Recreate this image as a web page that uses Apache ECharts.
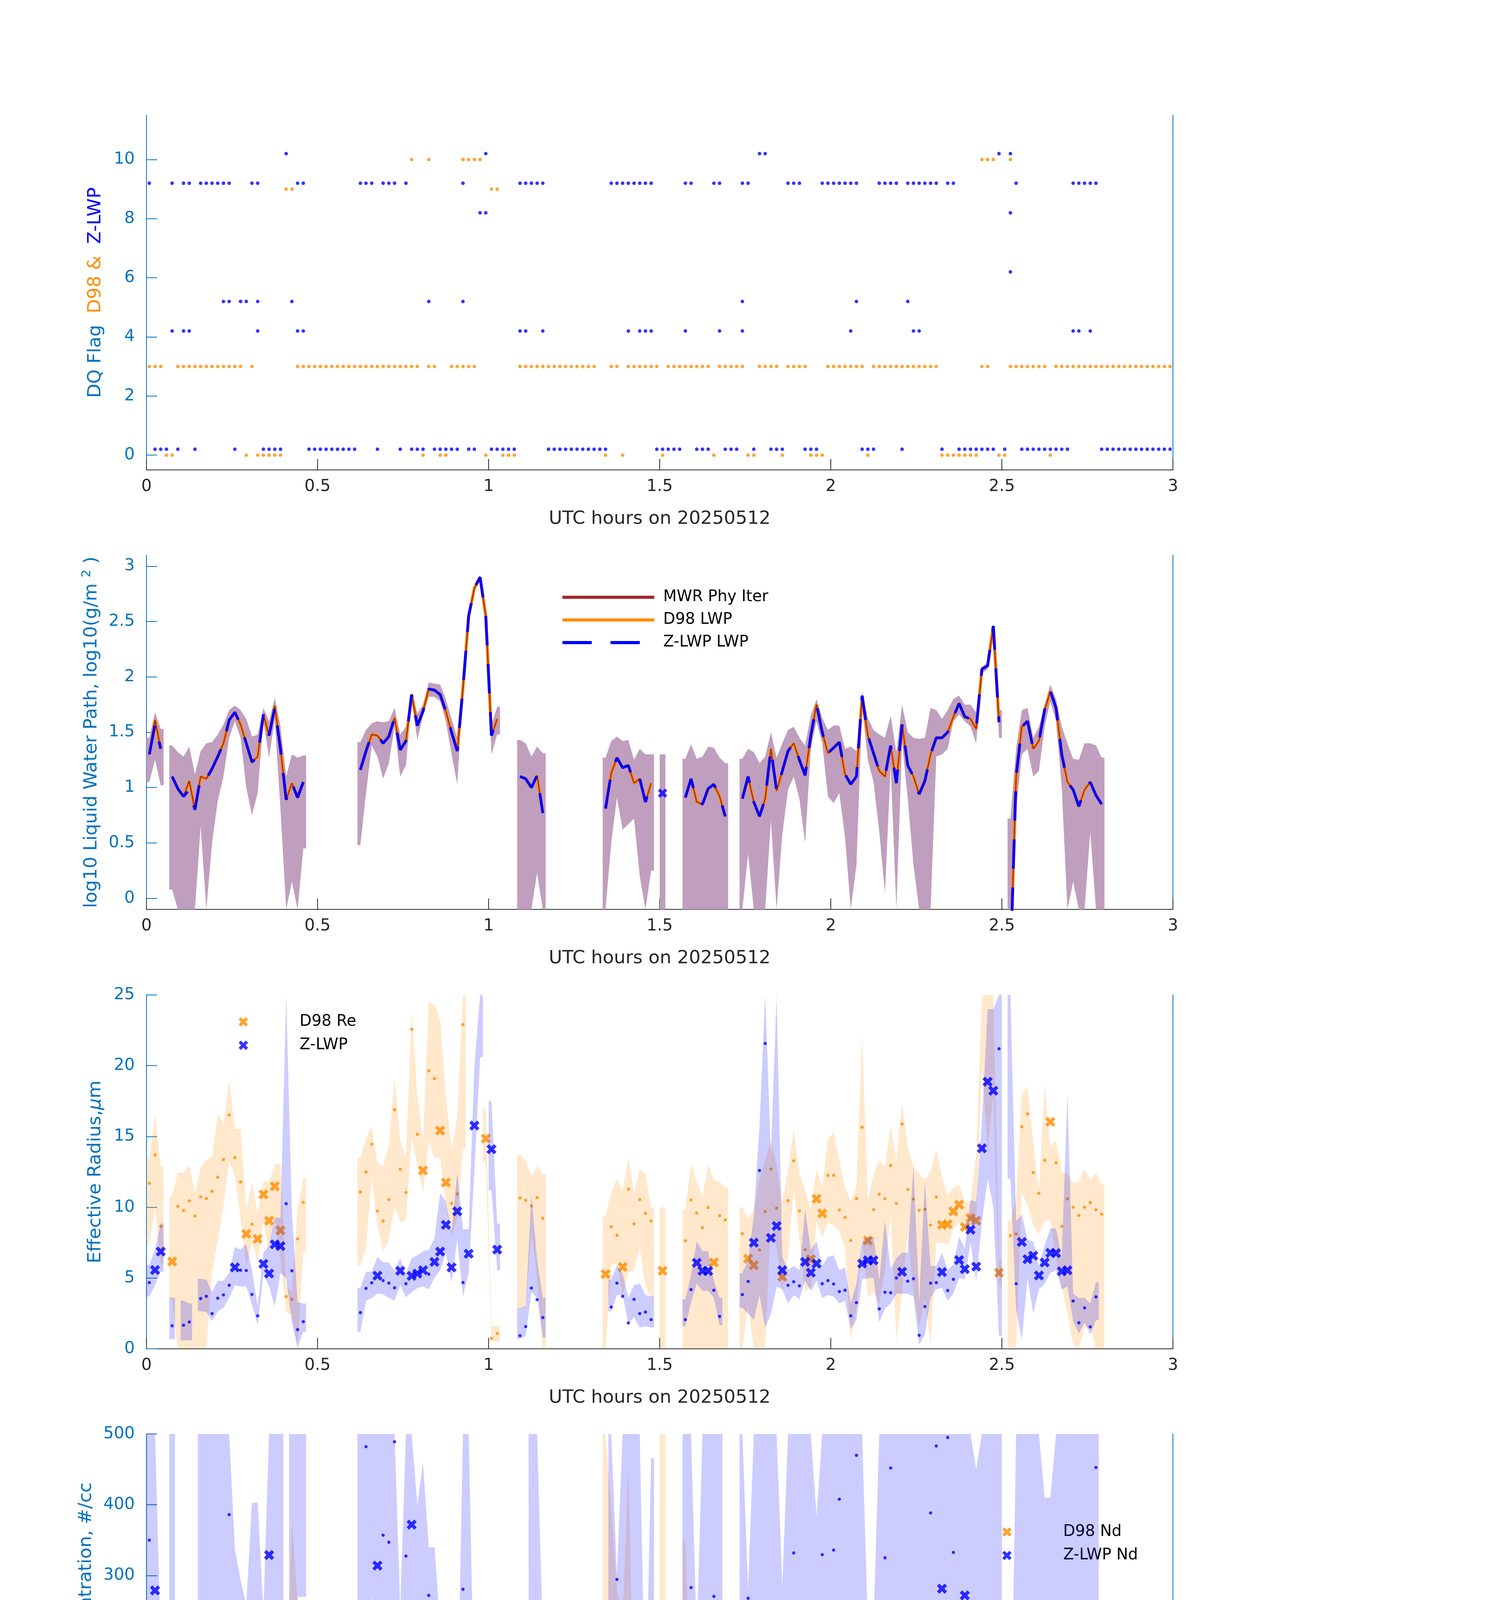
<!DOCTYPE html>
<html><head><meta charset="utf-8">
<script src="https://cdn.jsdelivr.net/npm/echarts@6/dist/echarts.min.js"></script>
<style>html,body{margin:0;padding:0;background:#fff}#c{width:3825px;height:6000px}</style>
</head><body><div id="c"></div>
<script>
const _ = null;
// x: one sample per minute, minute index i -> UTC hour (i+0.5)/60
const xTicks = [0, 0.5, 1, 1.5, 2, 2.5, 3];

// ---------- Panel 1: DQ flags (minute indices at each flag level) ----------
const d98Flag0 = [3,4,17,19,20,21,22,23,48,51,52,59,62,63,64,80,83,90,99,105,106,111,116,117,118,126,139,140,141,142,143,144,145,149,150,158];
const d98Flag3 = [0,1,2,5,6,7,8,9,10,11,12,13,14,15,16,18,26,27,28,29,30,31,32,33,34,35,36,37,38,39,40,41,42,43,44,45,46,47,49,50,53,54,55,56,57,65,66,67,68,69,70,71,72,73,74,75,76,77,78,81,82,84,85,86,87,88,89,91,92,93,94,95,96,97,98,100,101,102,103,104,107,108,109,110,112,113,114,115,119,120,121,122,123,124,125,127,128,129,130,131,132,133,134,135,136,137,138,146,147,151,152,153,154,155,156,157,159,160,161,162,163,164,165,166,167,168,169,170,171,172,173,174,175,176,177,178,179,180];
const d98Flag9 = [24,25,60,61];
const d98Flag10 = [46,49,55,56,57,58,146,147,148,151];
const zFlag0 = [1,2,3,5,8,15,20,21,22,23,28,29,30,31,32,33,34,35,36,40,44,46,47,48,50,51,52,53,54,56,57,60,61,62,63,64,70,71,72,73,74,75,76,77,78,79,80,89,90,91,92,93,96,97,98,101,102,103,106,109,110,111,115,116,117,125,126,127,132,139,142,143,144,145,146,147,148,150,153,154,155,156,157,158,159,160,161,167,168,169,170,171,172,173,174,175,176,177,178,179,180];
const zFlag4 = [4,6,7,19,26,27,65,66,69,84,86,87,88,94,100,104,123,134,135,162,163,165];
const zFlag5 = [13,14,16,17,19,25,49,55,104,124,133];
const zFlag6 = [151];
const zFlag8 = [58,59,151];
const zFlag9 = [0,4,6,7,9,10,11,12,13,14,18,19,26,27,37,38,39,41,42,43,45,55,65,66,67,68,69,81,82,83,84,85,86,87,88,94,95,99,100,104,105,112,113,114,118,119,120,121,122,123,124,128,129,130,131,133,134,135,136,137,138,140,141,152,162,163,164,165,166];
const zFlag10 = [24,59,107,108,149,151];

// ---------- Panel 2: log10 LWP ----------
const zlwpLwp = [
1.30,1.57,1.35,_,1.10,0.99,0.92,0.98,0.80,1.10,
1.08,1.17,1.28,1.40,1.61,1.68,1.57,1.40,1.23,1.28,
1.66,1.47,1.72,1.35,0.89,1.04,0.91,1.05,_,_,
_,_,_,_,_,_,_,1.16,1.33,1.48,
1.47,1.40,1.46,1.63,1.34,1.42,1.84,1.56,1.69,1.89,
1.88,1.84,1.69,1.50,1.33,1.90,2.55,2.80,2.90,2.55,
1.47,1.62,_,_,_,1.10,1.08,1.00,1.11,0.77,
_,_,_,_,_,_,_,_,_,_,
0.81,1.13,1.27,1.18,1.20,1.04,1.08,0.87,1.04,_,
_,_,_,_,0.91,1.08,0.87,0.85,0.99,1.03,
0.92,0.74,_,_,0.90,1.10,0.87,0.74,0.90,1.35,
0.97,1.15,1.33,1.40,1.25,1.11,1.47,1.75,1.50,1.31,
1.36,1.41,1.12,1.03,1.10,1.83,1.47,1.31,1.15,1.10,
1.38,1.04,1.57,1.20,1.10,0.94,1.06,1.30,1.45,1.45,
1.50,1.64,1.76,1.64,1.62,1.53,2.07,2.10,2.46,1.59,
_,-0.6,1.10,1.55,1.60,1.35,1.42,1.70,1.87,1.72,
1.30,1.05,0.98,0.83,0.98,1.05,0.93,0.85];
const d98Lwp = [
1.30,1.61,1.35,_,1.10,0.99,0.92,1.06,0.80,1.10,
1.08,1.17,1.28,1.40,1.61,1.68,1.57,1.40,1.23,1.28,
1.66,1.47,1.74,1.35,0.89,1.04,0.91,1.05,_,_,
_,_,_,_,_,_,_,1.16,1.33,1.48,
1.47,1.40,1.46,1.63,1.34,1.42,1.84,1.56,1.69,1.89,
1.88,1.84,1.69,1.50,1.33,1.90,2.55,2.80,2.90,2.55,
1.47,1.62,_,_,_,1.10,1.08,1.00,1.11,0.77,
_,_,_,_,_,_,_,_,_,_,
0.81,1.13,1.27,1.18,1.20,1.04,1.08,0.87,1.04,_,
_,_,_,_,0.91,1.08,0.87,0.85,0.99,1.03,
0.92,0.74,_,_,0.90,1.10,0.87,0.74,0.90,1.35,
0.97,1.15,1.33,1.40,1.25,1.11,1.47,1.75,1.50,1.31,
1.36,1.41,1.12,1.03,1.10,1.83,1.47,1.31,1.15,1.10,
1.38,1.04,1.57,1.20,1.10,0.94,1.06,1.30,1.45,1.45,
1.50,1.64,1.76,1.64,1.62,1.53,2.07,2.10,2.46,1.59,
_,-0.6,1.10,1.55,1.60,1.35,1.42,1.70,1.87,1.72,
1.30,1.05,0.98,0.83,0.98,1.05,0.93,0.85];
const mwrLwp = d98Lwp; // MWR Phy Iter coincides with D98 LWP in the picture
const zlwpLwpIsolated = [[90, 0.95]]; // [minute index, value]
const lwpLo = [
1.05,1.25,1.02,_,0.08,-0.3,-0.3,-0.3,-0.3,0.65,
-0.3,0.50,0.88,1.10,1.45,1.60,1.45,1.00,0.75,0.95,
1.60,1.27,1.62,0.80,-0.3,0.15,-0.3,0.45,_,_,
_,_,_,_,_,_,_,0.48,0.95,1.38,
1.28,1.08,1.22,1.55,1.10,1.20,1.78,1.43,1.65,1.82,
1.82,1.78,1.60,1.30,1.03,1.87,2.53,2.78,2.88,2.50,
1.30,1.48,_,_,_,-0.3,-0.3,-0.3,0.23,-0.3,
_,_,_,_,_,_,_,_,_,_,
-0.3,0.50,0.91,0.62,0.67,0.72,0.20,-0.3,0.25,_,
-0.3,_,_,_,-0.3,-0.3,-0.3,-0.3,-0.3,-0.3,
-0.3,-0.3,_,_,-0.3,0.40,-0.3,-0.3,-0.3,0.70,
-0.3,0.58,0.98,1.10,0.90,0.50,1.35,1.60,1.40,0.92,
0.86,0.95,0.55,-0.3,0.30,1.73,1.25,1.05,0.60,0.05,
1.20,-0.3,1.40,0.90,0.30,-0.3,-0.3,-0.3,1.28,1.30,
1.35,1.60,1.66,1.60,1.55,1.40,2.03,2.07,2.43,1.45,
_,-0.3,0.80,1.30,1.35,1.10,1.15,1.55,1.78,1.60,
1.00,-0.3,0.15,-0.3,-0.3,0.60,-0.3,-0.3];
const lwpHi = [
1.45,1.68,1.53,_,1.38,1.32,1.28,1.37,1.12,1.33,
1.40,1.41,1.48,1.57,1.70,1.74,1.70,1.62,1.46,1.48,
1.72,1.60,1.81,1.55,1.10,1.30,1.27,1.29,_,_,
_,_,_,_,_,_,_,1.41,1.52,1.58,
1.60,1.59,1.60,1.72,1.48,1.55,1.86,1.67,1.75,1.95,
1.94,1.93,1.80,1.62,1.45,1.91,2.56,2.82,2.92,2.57,
1.57,1.73,_,_,_,1.43,1.40,1.28,1.37,1.31,
_,_,_,_,_,_,_,_,_,_,
1.27,1.42,1.46,1.42,1.43,1.25,1.35,1.30,1.30,_,
1.30,_,_,_,1.26,1.39,1.26,1.28,1.37,1.36,
1.27,1.22,_,_,1.26,1.35,1.32,1.22,1.28,1.50,
1.27,1.40,1.52,1.55,1.45,1.38,1.65,1.80,1.63,1.52,
1.56,1.56,1.35,1.37,1.33,1.87,1.63,1.52,1.48,1.45,
1.65,1.32,1.75,1.50,1.45,1.44,1.45,1.72,1.70,1.62,
1.70,1.80,1.83,1.75,1.75,1.68,2.09,2.13,2.48,1.70,
_,0.72,1.35,1.70,1.72,1.45,1.55,1.75,1.93,1.80,
1.55,1.40,1.26,1.25,1.40,1.40,1.38,1.27];

// ---------- Panel 3: effective radius (um) ----------
const d98Re = [
11.7,13.7,8.66,_,6.17,10.06,9.77,10.45,9.38,10.74,
10.62,11.13,12.12,13.36,16.52,13.51,11.79,8.12,8.80,7.77,
10.91,9.05,11.48,8.37,3.69,3.50,7.77,10.35,_,_,
_,_,_,_,_,_,_,11.07,12.49,14.45,
9.73,9.03,10.54,16.89,12.68,11.05,22.58,15.15,12.60,19.63,
19.09,15.42,11.75,10.27,10.95,22.9,_,_,_,14.85,
0.74,1.1,_,_,_,10.66,10.50,10.10,10.68,9.22,
_,_,_,_,_,_,_,_,_,_,
5.28,8.62,8.02,5.79,11.28,8.83,10.54,9.57,9.03,_,
5.51,_,_,_,7.63,10.52,9.59,8.56,9.98,6.10,
9.40,9.11,_,_,8.14,6.37,5.90,6.99,9.69,12.70,
9.94,5.09,10.47,13.28,9.75,7.01,6.33,10.60,9.57,12.25,
12.25,9.81,9.28,7.65,10.62,15.65,7.65,9.84,10.93,10.60,
12.95,10.27,15.88,11.26,10.58,9.79,9.86,8.74,10.72,8.76,
8.80,9.71,10.19,8.60,9.24,9.05,_,_,_,5.38,
_,8.0,8.12,15.69,16.6,12.45,10.99,13.32,16.04,13.15,
8.66,10.60,10.0,9.42,10.0,10.33,9.83,9.51];
const zRe = [
4.68,5.57,6.87,_,1.63,_,1.67,1.90,_,3.55,
3.71,2.49,3.57,3.81,4.49,5.75,5.55,5.53,3.84,2.33,
6.0,5.32,7.38,7.26,10.25,5.51,1.36,1.92,_,_,
_,_,_,_,_,_,_,2.56,4.27,4.66,
5.17,4.82,4.64,4.31,5.51,4.60,5.15,5.32,5.55,5.28,
6.14,6.87,8.76,5.75,9.71,4.68,6.72,15.77,_,_,
14.10,7.01,_,_,_,0.93,1.57,4.29,3.48,2.21,
_,_,_,_,_,_,_,_,_,_,
_,2.95,4.64,3.71,1.83,3.50,2.49,2.60,2.06,_,
_,_,_,_,2.06,4.19,6.08,5.51,5.50,4.14,
2.29,_,_,_,3.83,4.76,7.50,12.60,21.57,7.84,
8.68,5.55,4.49,4.74,4.45,6.14,5.38,6.02,4.60,4.82,
4.58,4.04,4.14,2.33,3.26,6.02,6.25,6.25,2.82,4.0,
3.96,5.01,5.44,4.78,4.95,0.95,2.99,4.64,4.68,5.42,
4.12,4.91,6.27,5.63,8.41,5.81,14.16,18.87,18.23,21.2,
_,_,4.60,7.55,6.33,6.58,5.18,6.10,6.78,6.76,
5.48,5.55,3.38,1.84,2.89,1.55,3.67,_];
const d98ReLo = [
7.4,10.0,6.0,_,3.5,0,0,0,0,0,
0.1,5.4,7.7,10.2,13.3,12.2,9.2,5.9,7.5,6.2,
9.0,6.9,9.2,6.3,2.6,2.4,0.1,6.9,_,_,
_,_,_,_,_,_,_,5.9,7.1,12.0,
8.7,6.9,7.7,10.0,9.0,9.05,14.9,12.9,11.0,14.7,
13.5,13.5,10.2,7.9,9.2,14.1,_,_,_,13.2,
0.5,0.5,_,_,_,2.9,2.9,8.3,5.0,0.1,
_,_,_,_,_,_,_,_,_,_,
0,5.9,6.1,3.8,5.4,5.55,7.1,4.4,3.6,_,
0,_,_,_,0,0,0,0,0,0,
0,0,_,_,0.1,3.0,0.1,0.1,0.1,9.2,
7.1,4.0,6.5,11.2,7.7,4.0,4.4,9.0,7.9,8.9,
8.7,8.3,7.1,0.5,3.0,7.7,3.6,4.0,3.2,5.5,
9.6,0.5,4.0,8.3,4.0,1.5,3.6,0.3,7.5,7.5,
7.3,8.5,8.9,8.3,9.4,9.05,20,14,18,4.4,
_,0.1,0.1,11.0,10.2,8.7,8.1,9.05,9.05,6.3,
4.4,2.45,0.3,0,1.5,1.5,0,0];
const d98ReHi = [
13.45,16.6,12.9,_,10.8,12.45,12.45,13.0,11.0,12.8,
13.35,13.6,16.6,15.9,18.95,15.55,15.55,9.8,11.8,9.5,
11.8,11.8,13.0,13.1,4.5,4.0,9.9,12.05,_,_,
_,_,_,_,_,_,_,13.5,14.9,15.75,
13.1,12.9,14.3,19.1,14.7,13.5,23.8,18.0,14.7,24.5,
24.3,23.2,17.8,14.1,16.4,26,_,_,_,16.97,
1.6,1.6,_,_,_,13.7,13.3,12.15,12.9,12.35,
_,_,_,_,_,_,_,_,_,_,
9.4,11.0,12.05,11.2,13.55,11.0,12.7,12.35,10.0,_,
10.0,_,_,_,9.8,13.1,11.8,10.8,13.0,11.9,
11.8,11.4,_,_,10.0,9.2,9.8,12.0,13.3,14.7,
12.9,10.4,12.6,15.5,12.35,11.2,9.8,12.7,11.4,14.8,
15.3,13.3,11.4,10.4,11.5,22.25,10.4,12.35,13.3,12.9,
15.85,13.3,17.4,14.2,12.9,12.35,11.95,12.5,14.1,12.15,
10.8,11.4,11.6,10.4,10.4,13.7,26,26,26,6.3,
_,9.05,10.6,18.0,18.5,14.5,11.2,18.6,14.3,14.7,
12.5,12.35,11.7,11.8,12.7,11.95,12.45,11.6];
const zReLo = [
3.7,4.5,5.45,_,0.7,_,0.6,0.6,_,2.65,
2.6,1.96,2.65,2.9,3.6,4.5,4.4,4.4,3.1,1.67,
5.3,4.4,3.0,5.35,5.0,1.86,0.1,1.2,_,_,
_,_,_,_,_,_,_,1.2,3.4,3.6,
3.9,3.85,3.6,3.4,4.5,3.65,4.0,4.3,4.4,4.2,
5.0,5.55,6.8,4.7,7.7,3.7,5.35,12.5,20.6,_,
11.2,5.55,_,_,_,0.7,0.9,4.0,3.6,0.8,
_,_,_,_,_,_,_,_,_,_,
_,2.65,3.8,3.8,1.77,2.25,1.5,1.6,1.5,_,
_,_,_,_,1.6,3.3,4.6,4.1,4.1,3.6,
1.67,_,_,_,2.9,2.5,2.05,3.8,1.5,2.45,
4.4,4.2,3.2,3.8,3.5,4.8,4.1,4.8,3.6,3.8,
3.7,3.2,3.4,1.4,2.05,4.9,5.0,5.0,1.86,2.85,
3.2,3.9,3.9,3.9,3.7,0.3,1.0,3.6,4.2,4.3,
3.4,3.9,5.0,4.9,7.5,4.8,9,12,10,0.9,
_,12.0,2.8,0.6,5.0,2.5,4.2,4.6,5.35,5.55,
4.2,4.4,1.96,1.1,1.86,1.0,2.05,_];
const zReHi = [
5.94,7.0,8.85,_,3.6,_,3.4,3.2,_,4.95,
4.9,4.0,4.8,4.8,5.35,7.2,7.0,7.4,5.55,3.0,
6.8,7.3,9.25,9.25,26,9.6,3.3,3.2,_,_,
_,_,_,_,_,_,_,4.3,5.45,5.45,
6.5,6.1,6.1,5.5,6.4,5.3,6.4,6.6,6.9,7.0,
7.8,11.0,10.4,8.3,12.45,8.45,8.45,19.9,26,_,
17.5,8.85,_,_,_,2.9,3.0,10.9,6.3,3.6,
_,_,_,_,_,_,_,_,_,_,
_,4.9,5.9,5.3,3.6,4.5,4.6,3.8,3.7,_,
_,_,_,_,3.5,5.2,7.6,6.9,6.9,4.8,
3.6,_,_,_,5.35,6.3,9.4,15.8,26,13.7,
26,6.5,5.55,5.85,5.55,9.8,7.0,7.6,5.85,6.5,
6.6,5.55,5.75,3.2,4.6,7.6,7.9,7.9,4.9,9.05,
5.65,6.4,6.8,6.8,12.9,3.4,11.8,5.85,5.85,6.8,
5.55,5.95,7.9,7.1,10.5,10.4,16,24,24,26,
_,26,9.0,9.5,7.7,7.6,5.85,7.3,8.5,8.5,
6.5,18.0,3.9,3.6,3.6,3.2,4.7,_];

// ---------- Panel 4: droplet concentration (#/cc) ----------
const d98Nd = [
22,21,47,_,121,20.5,20,22,17,23,
23,24,24,11,6,8,14,30,45,46,
13,61,40,57,55,95,40,22,_,_,
_,_,_,_,_,_,_,24,22,17,
44,58,28,8,8.5,27.5,4,8.5,18,4.6,
6,9,13,16,2,2,0,0,2,29,
_,_,_,_,_,23,23,20,15.5,17,
_,_,_,_,_,_,_,_,_,_,
100,48,58,151.5,24,36,23,19,33,_,
121,_,_,_,41,18,8.5,16,15,79,
22,16,_,_,11,110,41.5,16,5,9.3,
12,146,42,12,20.5,21,150,31,37,14,
14,29,15,55,11,15,58.5,26,18.6,16,
12,9.3,7.7,11,23,20.5,26,64,37.6,71,
42,38,43,67,47,67,1,1,2,89.5,
_,_,15,10,10,8,17,19,15,19,
46,22,23,18,21,23,20.5,18.6];
const zNd = [
350,279,88,_,_,_,_,_,_,_,
_,_,_,_,386,165,144,100,_,_,
120,329,177,70.5,2.3,29,_,_,_,_,
_,_,_,_,_,_,_,_,482,_,
314,357,347,489,123,327.5,372,197,228,272,
169,105,39,110.5,7.4,280.6,256,58,14.7,3,
11,74.4,_,_,_,_,_,221,_,_,
_,_,_,_,_,_,_,_,_,_,
_,_,294.6,_,_,_,_,_,_,_,
_,_,_,_,_,283,38,53.5,95,270.5,
_,_,_,_,180,268,21,2.7,0.4,57,
14,102.7,_,332,206,32,240.7,190.7,329.5,218.6,
336,407.8,203,_,469.8,257.4,114,107,_,325,
452,85,246.5,173.6,245.7,_,_,388.4,483,281.4,
495,332.6,217,272,63.6,228,28.3,7.4,19.4,1.2,
_,0,92,100.4,194,63.6,195,205,203,138.8,
237,116,_,_,_,_,452.7,_];
const d98NdLo = [
16,12,16,_,22,14,14,14,14,20,
20,20,20,4,4,4,4,18,43,18,
10,29,35,16,0,8,4,12,_,_,
_,_,_,_,_,_,_,10,12,14,
18,27,14,0,4,14,0,4,12,1,
1,4,8,8,0,0,0,0,0,18,
1,1,_,_,_,17,16,8,4,10,
_,_,_,_,_,_,_,_,_,_,
18,24,22,35,18,14,8,12,14,_,
20,_,_,_,20,16,6,12,10,31,
16,12,_,_,8,16,8,0,0,4,
8,4,12,8,8,16,8,24,20,8,
8,12,8,4,6,8,31,12,8,6,
6,4,3,4,12,4,12,8,20,31,
27,27,31,39,31,31,0,0,0,55,
_,0,4,4,4,4,12,12,8,8,
16,8,12,12,14,16,14,14];
const d98NdHi = [
93,74,82,_,70,25,25,25,25,27,
27,49,27,16,16,16,16,43,90,47,
55,86,59,70,105,376,264,74,_,_,
_,_,_,_,_,_,_,86,107,31,
66,107,43,22,24,51,12,31,27,12,
14,18,27,31,4,4,4,4,4,41,
8,8,_,_,_,27,25,24,33,55,
_,_,_,_,_,_,_,_,_,_,
600,396,280,240,454,86,66,31,171,_,
600,_,_,_,349,93,124,113,132,113,
74,47,_,_,74,113,62,35,12,47,
66,186,93,39,51,113,171,55,47,47,
49,43,35,148,39,35,74,47,27,20,
20,16,14,16,27,27,31,167,55,113,
58,58,82,82,66,113,8,8,8,120,
_,4,74,31,39,35,27,27,27,27,
58,202,27,25,25,25,25,24];
const zNdLo = [
112,138,20,_,70,_,_,_,_,85,
245,105,145,145,185,82,66,17,20,35,
60,120,40,15,_,0,270,270,_,_,
_,_,_,_,_,_,_,157,107,273,
124,76,76,245,38,184,184,95,134,134,
84,50,10,5,0,139,115,30,5,1,
5,37,_,_,_,_,_,0,30,45,
_,_,_,_,_,_,_,_,_,_,
_,70,60,45,25,15,10,5,90,_,
_,_,_,_,25,140,20,100,130,130,
95,_,_,_,74,35,8,0,0,20,
8,0,105,105,40,0,20,20,45,45,
45,30,20,0,50,50,70,70,20,20,
30,10,45,40,20,10,15,185,140,140,
75,110,110,120,40,20,0,0,0,0,
_,0,0,80,160,20,100,100,80,40,
20,0,0,20,0,0,170,_];
const zNdHi = [
600,600,210,_,600,_,_,_,_,600,
600,600,600,600,600,337,294,258,403,403,
250,600,600,600,_,600,600,600,_,_,
_,_,_,_,_,_,_,600,600,600,
600,600,600,600,255,600,600,400,460,340,
340,229,186,223,80,600,600,117,30,15,
130,150,_,_,_,_,_,600,600,215,
_,_,_,_,_,_,_,_,_,_,
_,600,300,600,600,600,600,90,466,_,
_,_,_,_,600,600,210,600,600,600,
600,_,_,_,600,280,600,600,600,600,
600,285,600,600,600,600,600,384,600,600,
600,600,600,600,600,600,230,230,600,600,
600,600,600,600,600,600,600,600,600,600,
600,600,600,600,600,450,600,600,600,600,
_,5,600,600,600,600,600,410,410,600,
600,600,600,600,600,600,600,_];

// ---------- Panel 5: optical depth ----------
const d98Od = [
2.5,4.4,3.9,_,3.1,1.5,1.3,1.7,1.0,1.8,
1.8,2.0,2.4,2.9,3.6,5.3,4.8,4.8,3.0,3.7,
6.1,5.0,7.1,4.0,3.2,4.6,1.6,1.6,_,_,
_,_,_,_,_,_,_,1.9,2.5,3.2,
4.5,4.2,4.1,3.7,2.6,3.6,4.6,3.6,6.2,5.9,
5.9,6.9,6.6,4.8,3.4,4.6,6.2,7.75,27.3,33.8,
62.6,58.3,_,_,_,1.8,1.7,1.5,1.8,0.9,
_,_,_,_,_,_,_,_,_,_,
1.9,2.3,3.5,4.0,2.1,1.9,1.7,1.1,1.8,_,
2.5,_,_,_,1.6,1.8,1.2,1.35,1.5,2.65,
1.35,0.9,_,_,1.5,3.0,2.2,1.2,1.2,2.65,
2.0,4.3,3.0,2.9,2.7,3.1,7.4,8.0,4.9,2.5,
2.75,3.9,2.1,2.2,1.8,6.4,5.5,3.2,1.9,1.8,
2.7,1.6,3.5,2.1,1.8,1.3,1.7,3.4,4.0,4.8,
5.3,6.6,8.5,7.7,6.5,5.6,5.4,6.1,12.7,11.0,
_,_,1.8,3.5,3.7,2.75,3.6,5.6,7.2,6.0,
3.4,1.8,1.6,1.1,1.5,1.6,1.4,1.1];
const zOd = [
6.5,10.8,5.0,_,12.1,_,7.6,9.7,_,5.5,
5.0,9.05,8.4,10.5,14.0,12.6,10.5,7.1,6.8,12.85,
11.5,8.6,11.3,4.8,1.1,3.0,9.2,8.85,_,_,
_,_,_,_,_,_,_,8.9,7.7,10.1,
8.8,8.0,9.4,14.8,6.3,8.7,20.55,10.6,14.4,22.8,
18.9,15.6,9.1,9.05,3.5,23.2,61.5,63.9,47.9,13.3,
3.2,9.1,_,_,_,21.3,11.8,3.6,5.7,4.3,
_,_,_,_,_,_,_,_,_,_,
_,7.3,6.1,6.35,13.6,4.9,7.7,4.5,8.2,_,
_,_,_,_,6.0,4.4,1.9,2.0,2.65,4.0,
5.5,_,_,_,3.3,4.0,1.8,0.7,0.6,4.5,
1.7,3.7,7.3,8.3,6.2,3.3,8.9,14.4,10.5,6.4,
7.4,9.8,4.9,7.3,6.0,17.0,6.9,4.9,7.75,4.8,
9.1,3.4,10.7,5.3,3.8,14.0,5.9,6.4,9.4,7.9,
11.8,13.5,14.3,11.9,7.7,9.1,12.5,10.3,24.5,2.9,
_,0,3.4,7.5,9.8,5.5,7.9,12.4,17.1,11.7,
5.6,3.4,4.7,5.9,5.0,11.0,3.6,_];
const d98OdLo = [
1.7,2.5,2.5,_,0.4,0.4,0.4,0.4,0.4,0.7,
0.8,0.6,1.2,1.8,2.5,4.0,3.5,3.3,1.0,1.8,
4.5,3.8,5.0,2.2,0.3,2.0,0.7,0.7,_,_,
_,_,_,_,_,_,_,0.7,1.2,2.0,
3.3,2.8,2.7,2.5,1.5,2.5,3.5,2.4,4.8,4.7,
4.7,5.5,5.2,3.6,2.2,3.4,4.8,6.0,21.5,29.5,
42.5,45.0,_,_,_,0.8,0.5,0.3,0.8,0.3,
_,_,_,_,_,_,_,_,_,_,
0.3,1.0,2.5,3.0,0.8,0.8,0.8,0.5,0.8,_,
0.5,_,_,_,0.4,0.4,0.4,0.4,0.6,1.5,
0.5,0.4,_,_,0.4,1.8,0.6,0.5,0.5,1.5,
1.2,2.8,2.2,2.2,1.5,0.5,5.5,6.5,3.8,1.2,
1.8,2.5,1.2,1.0,0.8,4.8,3.8,1.8,0.8,0.8,
1.5,0.8,2.5,0.8,0.6,0.2,0.3,2.0,2.8,3.8,
4.2,5.3,7.2,6.3,5.0,3.5,3.8,4.5,8.0,9.5,
_,0,0.8,2.5,2.5,1.8,2.4,4.5,6.0,4.8,
2.4,0.8,0.4,0.4,0.5,0.6,0.5,0.5];
const d98OdHi = [
3.4,6.0,5.5,_,6.8,2.3,2.5,2.3,2.0,2.8,
3.1,3.2,3.5,4.2,4.8,6.2,5.8,6.0,4.5,5.2,
7.0,6.2,8.7,5.3,5.5,6.5,2.7,2.5,_,_,
_,_,_,_,_,_,_,3.0,3.6,4.5,
5.8,5.2,5.3,5.0,3.8,4.8,5.8,5.0,7.5,8.0,
8.2,8.3,8.0,6.1,4.6,5.8,7.5,21.5,34.5,38.3,
68,68,_,_,_,68,68,2.5,2.6,2.2,
_,_,_,_,_,_,_,_,_,_,
4.8,4.0,4.8,5.2,3.5,2.8,2.6,2.0,2.8,_,
9.0,_,_,_,3.6,3.0,2.2,2.3,2.5,3.6,
2.2,1.9,_,_,2.6,4.2,2.9,1.9,2.0,3.8,
3.0,5.0,3.8,3.8,3.8,4.6,8.8,9.3,6.0,3.5,
3.8,5.4,3.0,3.4,2.8,9.2,6.8,4.2,2.8,2.6,
3.6,2.5,4.8,2.8,2.5,2.0,3.0,4.8,5.2,6.0,
6.5,8.0,10.5,9.2,8.2,7.0,7.0,7.5,16.3,12.5,
_,0.8,2.8,5.0,5.2,3.9,4.6,7.0,8.5,7.2,
4.5,2.8,2.4,2.2,2.5,2.5,2.2,2.0];
const zOdLo = [
3.1,7.2,2.0,_,0.7,_,3.8,5.5,_,2.0,
3.5,1.7,5.6,7.7,9.5,9.8,6.4,2.5,1.7,3.3,
7.2,4.6,6.1,1.7,0.2,0.4,2.5,2.2,_,_,
_,_,_,_,_,_,_,0.9,4.3,4.6,
4.8,3.0,4.3,4.6,3.8,4.3,16.3,6.9,10.6,12.1,
15.0,14.2,6.1,5.9,1.2,18.4,48.8,51.4,38.1,10.3,
2.0,6.1,_,_,_,6.9,3.3,0.4,1.2,2.5,
_,_,_,_,_,_,_,_,_,_,
_,2.8,2.2,4.1,8.5,2.2,0.7,2.8,2.2,_,
_,_,_,_,2.8,2.5,0.9,1.2,1.7,3.3,
2.0,_,_,_,2.2,1.5,0.7,0.2,0.2,1.2,
0.7,2.0,3.8,3.8,2.5,0.7,6.7,11.1,8.0,3.5,
2.5,3.8,1.5,2.8,2.5,13.7,3.3,2.2,1.7,0.7,
4.3,1.2,8.5,1.7,0.7,0.2,0.4,3.5,4.3,4.3,
11.1,11.1,11.1,7.7,5.9,6.7,8.5,8.0,19.4,1.8,
_,0,1.0,4.5,4.3,2.8,4.6,10.6,14.2,6.9,
1.2,0.2,2.2,5.9,3.3,6.9,2.8,_];
const zOdHi = [
10.6,14.7,8.7,_,28.5,_,23.7,30.6,_,10.6,
11.9,19.4,16.0,17.6,19.9,16.0,15.0,13.4,13.7,22.8,
15.0,13.4,27.5,9.5,1.2,8.5,27.5,18.6,_,_,
_,_,_,_,_,_,_,19.1,13.7,13.2,
13.4,14.2,14.5,20.4,13.7,13.7,25.9,16.3,17.1,28.8,
23.6,21.5,12.1,11.9,6.1,29.3,68,68,60.2,16.3,
4.8,12.4,_,_,_,59.5,31.9,9.0,15.8,22.3,
_,_,_,_,_,_,_,_,_,_,
_,17.1,11.1,13.2,27.2,8.5,17.3,17.1,18.3,_,
_,_,_,_,17.7,11.6,6.7,7.4,9.0,11.6,
18.1,_,_,_,9.6,7.7,6.4,2.8,24.9,24.9,
4.8,5.9,11.7,13.0,11.3,10.0,15.8,18.1,15.2,12.1,
14.7,15.8,11.6,20.4,11.6,21.5,11.1,8.0,17.1,12.6,
15.8,6.9,13.7,9.8,9.3,61.6,14.7,18.1,13.7,11.1,
17.3,17.8,18.4,14.2,10.6,13.2,15.8,68,68,68,
_,0.7,8.0,68,13.9,14.2,15.2,16.8,21.5,16.3,
10.6,8.0,8.5,21.2,16.3,22.5,12.2,_];

// ---------- styling ----------
const FONT = 'DejaVu Sans';
const ORANGE = '#FF8C00', BLUE = '#0000FF', AXBLUE = '#0072BD', DARK = '#262626', BROWN = '#A2292B';
const X_PATH = 'path://M24,0L50,26L76,0L100,24L74,50L100,76L76,100L50,74L24,100L0,76L26,50L0,24Z';
const tOf = i => (i + 0.5) / 60;

const panels = [
  {top: 295, height: 908, min: -0.5, max: 11.5, ticks: [0,2,4,6,8,10], gap: 102,
   name: '{a|DQ Flag}  {b|D98 &}  {c|Z-LWP}'},
  {top: 1421, height: 907, min: -0.1, max: 3.1, ticks: [0,0.5,1,1.5,2,2.5,3], gap: 112,
   name: 'log10 Liquid Water Path, log10(g/m {s|2} )'},
  {top: 2547, height: 906, min: 0, max: 25, ticks: [0,5,10,15,20,25], gap: 102,
   name: 'Effective Radius,{i|μ}m'},
  {top: 3671, height: 906, min: 0, max: 500, ticks: [0,100,200,300,400,500], gap: 126,
   name: 'Droplet Concentration, #/cc'},
  {top: 4795, height: 908, min: 0, max: 67.2, ticks: [0,10,20,30,40,50,60], gap: 102,
   name: 'Optical Depth'}
];

const NF = 47;
const nameRich = {
  a: {color: AXBLUE, fontSize: NF, fontFamily: FONT},
  b: {color: ORANGE, fontSize: NF, fontFamily: FONT},
  c: {color: BLUE, fontSize: NF, fontFamily: FONT},
  s: {color: AXBLUE, fontSize: 32, fontFamily: FONT, verticalAlign: 'top'},
  i: {color: AXBLUE, fontSize: NF, fontFamily: FONT, fontStyle: 'italic'}
};

const grids = [], xAxes = [], yAxes = [];
panels.forEach((p, k) => {
  grids.push({left: 375, width: 2628, top: p.top, height: p.height});
  xAxes.push({type: 'value', gridIndex: k, min: 0, max: 3,
    axisLine: {show: true, onZero: false, lineStyle: {color: DARK, width: 2}},
    axisTick: {show: true, inside: true, length: 28, lineStyle: {color: DARK, width: 2}, customValues: xTicks},
    axisLabel: {color: DARK, fontSize: 42, fontFamily: FONT, margin: 22, customValues: xTicks},
    splitLine: {show: false},
    name: 'UTC hours on 20250512', nameLocation: 'middle', nameGap: 102,
    nameTextStyle: {color: DARK, fontSize: NF, fontFamily: FONT}});
  yAxes.push({type: 'value', gridIndex: k, min: p.min, max: p.max, position: 'left',
    axisLine: {show: true, onZero: false, lineStyle: {color: AXBLUE, width: 2}},
    axisTick: {show: true, inside: true, length: 27, lineStyle: {color: AXBLUE, width: 2}, customValues: p.ticks},
    axisLabel: {color: AXBLUE, fontSize: 42, fontFamily: FONT, margin: 30, customValues: p.ticks},
    splitLine: {show: false},
    name: p.name, nameLocation: 'middle', nameGap: p.gap, nameRotate: 90,
    nameTextStyle: {color: AXBLUE, fontSize: NF, fontFamily: FONT, lineHeight: 56, rich: nameRich}});
});
panels.forEach((p, k) => {
  yAxes.push({type: 'value', gridIndex: k, min: p.min, max: p.max, position: 'right',
    axisLine: {show: true, onZero: false, lineStyle: {color: AXBLUE, width: 2}},
    axisTick: {show: false}, axisLabel: {show: false}, splitLine: {show: false}});
});

const series = [];

// Panel 1 scatter
function flagSeries(list, level, offset, color) {
  series.push({type: 'scatter', xAxisIndex: 0, yAxisIndex: 0, symbol: 'circle', symbolSize: 9,
    itemStyle: {color}, z: 3, silent: true,
    data: list.map(i => [tOf(i), level + offset])});
}
flagSeries(d98Flag0, 0, 0, ORANGE); flagSeries(d98Flag3, 3, 0, ORANGE);
flagSeries(d98Flag9, 9, 0, ORANGE); flagSeries(d98Flag10, 10, 0, ORANGE);
const Z_OFF = 0.2;
flagSeries(zFlag0, 0, Z_OFF, BLUE); flagSeries(zFlag4, 4, Z_OFF, BLUE); flagSeries(zFlag5, 5, Z_OFF, BLUE);
flagSeries(zFlag6, 6, Z_OFF, BLUE); flagSeries(zFlag8, 8, Z_OFF, BLUE); flagSeries(zFlag9, 9, Z_OFF, BLUE);
flagSeries(zFlag10, 10, Z_OFF, BLUE);

// band polygons (one per contiguous run), extended half a sample at each end
function bandSeries(lo, hi, fill, k, z) {
  const segs = []; let s = -1;
  for (let i = 0; i <= lo.length; i++) {
    const ok = i < lo.length && lo[i] != null && hi[i] != null;
    if (ok && s < 0) s = i;
    if (!ok && s >= 0) { segs.push([s, i - 1]); s = -1; }
  }
  const yMin = panels[k].min, yMax = panels[k].max;
  const cl = v => Math.max(yMin, Math.min(yMax, v));
  const h = 0.5 / 60;
  series.push({type: 'custom', xAxisIndex: k, yAxisIndex: k, z, silent: true,
    data: segs.map(g => [tOf(g[0]), tOf(g[1]), yMin, yMax]),
    encode: {x: [0, 1], y: [2, 3]},
    renderItem: (params, api) => {
      const g = segs[params.dataIndex];
      const top = [], bot = [];
      for (let i = g[0]; i <= g[1]; i++) {
        const t = tOf(i);
        if (i === g[0]) { top.push(api.coord([t - h, cl(hi[i])])); bot.push(api.coord([t - h, cl(lo[i])])); }
        top.push(api.coord([t, cl(hi[i])])); bot.push(api.coord([t, cl(lo[i])]));
        if (i === g[1]) { top.push(api.coord([t + h, cl(hi[i])])); bot.push(api.coord([t + h, cl(lo[i])])); }
      }
      return {type: 'polygon', shape: {points: top.concat(bot.reverse())}, style: {fill}};
    }});
}

// Panel 2
bandSeries(lwpLo, lwpHi, '#C09EBE', 1, 1);
const lineData = arr => arr.map((v, i) => [tOf(i), v]);
series.push({name: 'D98 LWP', type: 'line', xAxisIndex: 1, yAxisIndex: 1, data: lineData(d98Lwp),
  symbol: 'none', lineStyle: {color: ORANGE, width: 8}, itemStyle: {color: ORANGE}, z: 2, silent: true});
series.push({name: 'MWR Phy Iter', type: 'line', xAxisIndex: 1, yAxisIndex: 1, data: lineData(mwrLwp),
  symbol: 'none', lineStyle: {color: BROWN, width: 3}, itemStyle: {color: BROWN}, z: 3, silent: true});
series.push({name: 'Z-LWP LWP', type: 'line', xAxisIndex: 1, yAxisIndex: 1, data: lineData(zlwpLwp),
  symbol: 'none', lineStyle: {color: BLUE, width: 7, type: [75, 48]}, itemStyle: {color: BLUE}, z: 4, silent: true});
series.push({type: 'scatter', xAxisIndex: 1, yAxisIndex: 1, symbol: X_PATH, symbolSize: 24,
  itemStyle: {color: BLUE}, z: 4, silent: true, data: zlwpLwpIsolated.map(d => [tOf(d[0]), d[1]])});

// Panels 3-5: X markers where flag 0, dots elsewhere
// order: D98 markers, D98 band, Z-LWP band, Z-LWP markers
const d98Good = new Set(d98Flag0), zGood = new Set(zFlag0);
function markerSeries(arr, good, color, k, nameX, z) {
  const xs = [], dots = [];
  arr.forEach((v, i) => { if (v == null) return; (good.has(i) ? xs : dots).push([tOf(i), v]); });
  series.push({type: 'scatter', xAxisIndex: k, yAxisIndex: k, symbol: 'circle', symbolSize: 8,
    itemStyle: {color}, z, silent: true, data: dots});
  series.push({name: nameX, type: 'scatter', xAxisIndex: k, yAxisIndex: k, symbol: X_PATH, symbolSize: 26,
    itemStyle: {color}, z, silent: true, data: xs});
}
const OB = 'rgba(255,140,0,0.2)', BB = 'rgba(0,0,255,0.2)';
markerSeries(d98Re, d98Good, ORANGE, 2, 'D98 Re', 2); bandSeries(d98ReLo, d98ReHi, OB, 2, 3);
bandSeries(zReLo, zReHi, BB, 2, 4); markerSeries(zRe, zGood, BLUE, 2, 'Z-LWP', 5);
markerSeries(d98Nd, d98Good, ORANGE, 3, 'D98 Nd', 2); bandSeries(d98NdLo, d98NdHi, OB, 3, 3);
bandSeries(zNdLo, zNdHi, BB, 3, 4); markerSeries(zNd, zGood, BLUE, 3, 'Z-LWP Nd', 5);
markerSeries(d98Od, d98Good, ORANGE, 4, 'D98 OD', 2); bandSeries(d98OdLo, d98OdHi, OB, 4, 3);
bandSeries(zOdLo, zOdHi, BB, 4, 4); markerSeries(zOd, zGood, BLUE, 4, 'Z-LWP Nd', 5);

const legTxt = pad => ({fontSize: 40, color: '#000', fontFamily: FONT, lineHeight: 44, padding: [0, 0, 0, pad]});
const legends = [
  {data: ['MWR Phy Iter', 'D98 LWP', 'Z-LWP LWP'], orient: 'vertical', left: 1431, top: 1502,
   itemWidth: 235, itemHeight: 2, itemGap: 14, textStyle: legTxt(18), lineStyle: {width: 8},
   itemStyle: {opacity: 0}, selectedMode: false},
  {data: ['D98 Re', 'Z-LWP'], orient: 'vertical', left: 606, top: 2589, icon: X_PATH,
   itemWidth: 26, itemHeight: 24, itemGap: 16, textStyle: legTxt(126), selectedMode: false},
  {data: ['D98 Nd', 'Z-LWP Nd'], orient: 'vertical', left: 2561, top: 3895, icon: X_PATH,
   itemWidth: 26, itemHeight: 24, itemGap: 16, textStyle: legTxt(126), selectedMode: false},
  {data: ['D98 OD', 'Z-LWP Nd'], orient: 'vertical', left: 2561, top: 5020, icon: X_PATH,
   itemWidth: 26, itemHeight: 24, itemGap: 16, textStyle: legTxt(126), selectedMode: false}
];

const chart = echarts.init(document.getElementById('c'), null, {renderer: 'canvas'});
chart.setOption({
  animation: false, backgroundColor: '#fff',
  textStyle: {fontFamily: FONT},
  grid: grids, xAxis: xAxes, yAxis: yAxes, legend: legends, series
});
</script></body></html>
